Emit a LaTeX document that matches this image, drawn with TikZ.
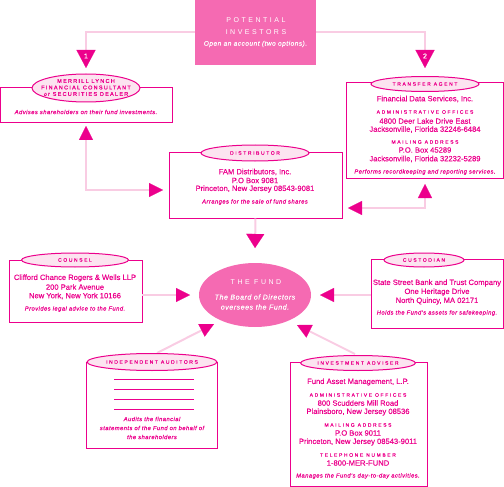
\documentclass[tikz,border=0pt]{standalone}
\usepackage{fontspec}
\setmainfont{Liberation Sans}[FakeBold=0.3]
\newfontfamily\bodyfont[FakeBold=0.3]{Liberation Sans}
\newfontfamily\capsfont[LetterSpace=32,FakeBold=0.6]{Liberation Sans}
\newfontfamily\bigcaps[LetterSpace=36]{Liberation Sans}
\newfontfamily\mlcaps[LetterSpace=23,FakeBold=0.6]{Liberation Sans}
\newfontfamily\itfont[LetterSpace=8,FakeBold=0.5]{Liberation Sans}
\newfontfamily\itwhite[LetterSpace=8,FakeBold=0.3]{Liberation Sans}
\usetikzlibrary{shapes.geometric,arrows.meta,fit}
\definecolor{mag}{RGB}{236,0,140}
\definecolor{lpink}{RGB}{249,204,227}
\definecolor{lfill}{RGB}{252,228,240}
\definecolor{fpink}{RGB}{245,106,178}
\tikzset{
  box/.style={draw=mag, line width=1pt, inner sep=0pt},
  lbl/.style={ellipse, draw=mag, fill=lfill, line width=1pt, inner sep=0pt, text=mag, font=\capsfont\fontsize{5}{6}\selectfont},
  txt/.style={text=mag, inner sep=0pt, font=\bodyfont\fontsize{7.6}{8}\selectfont},
  captxt/.style={text=mag, inner sep=0pt, font=\capsfont\fontsize{5}{6}\selectfont},
  desc/.style={text=mag, inner sep=0pt, font=\itfont\itshape\fontsize{5.8}{6}\selectfont},
  wtxt/.style={text=white, inner sep=0pt, font=\bigcaps\fontsize{7}{8}\selectfont},
  wdesc/.style={text=white, inner sep=0pt, font=\itwhite\itshape\fontsize{7}{8}\selectfont},
  conn/.style={draw=lpink, line width=2pt},
  mtip/.tip={Triangle[width=14pt,length=14pt,color=mag,fill=mag,line width=0.1pt]},
  wtip/.tip={Triangle[width=18pt,length=14pt,color=mag,fill=mag,line width=0.1pt]},
  ntip/.tip={Triangle[width=19pt,length=18pt,color=mag,fill=mag,line width=0.1pt]},
}
\begin{document}
\begin{tikzpicture}[x=1pt,y=-1pt]
\useasboundingbox (0,0) rectangle (504,487);

% Potential investors
\node[fill=fpink, inner sep=0pt, fit={(195,0) (316,65)}] (inv) {};
\node[wtxt] (invA) at (256,20) {POTENTIAL};
\node[wtxt] (invB) at (256,32) {INVESTORS};
\node[wdesc, font=\itwhite\itshape\fontsize{6.5}{7}\selectfont] (invC) at (255.5,44) {Open an account (two options).};

% numbered connectors
\coordinate (n1) at (86,68);
\coordinate (n2) at (425,68);
\draw[conn, -ntip] (inv.west) -| (n1);
\draw[conn, -ntip] (inv.east) -| (n2);
\node[text=white, inner sep=0pt, font=\bodyfont\fontsize{7}{8}\selectfont] (one) at (86,56) {1};
\node[text=white, inner sep=0pt, font=\bodyfont\fontsize{7}{8}\selectfont] (two) at (425,56) {2};

% Merrill Lynch
\node[box, fit={(0.5,88) (172,123)}] (ml) {};
\node[lbl, minimum width=108pt, minimum height=28pt] (mlL) at (86,88) {};
\node[text=mag, inner sep=0pt, font=\mlcaps\fontsize{5.5}{6}\selectfont] (mlA) at (86,81) {MERRILL LYNCH};
\node[text=mag, inner sep=0pt, font=\mlcaps\fontsize{5.5}{6}\selectfont] (mlB) at (86,87.5) {FINANCIAL CONSULTANT};
\node[text=mag, inner sep=0pt, font=\mlcaps\fontsize{5.5}{6}\selectfont] (mlC) at (86,94) {or SECURITIES DEALER};
\node[desc] (mlD) at (86,112) {Advises shareholders on their fund investments.};

% Transfer agent
\node[box, fit={(346,83) (503.5,178)}] (ta) {};
\node[lbl, minimum width=108pt, minimum height=15pt] (taL) at (425,84) {TRANSFER AGENT};
\node[txt] (ta1) at (425,99) {Financial Data Services, Inc.};
\node[captxt] (ta2) at (425,112) {ADMINISTRATIVE OFFICES};
\node[txt] (ta3) at (425,121) {4800 Deer Lake Drive East};
\node[txt] (ta4) at (425,129.5) {Jacksonville, Florida 32246-6484};
\node[captxt] (ta5) at (425,142) {MAILING ADDRESS};
\node[txt] (ta6) at (425,150) {P.O. Box 45289};
\node[txt] (ta7) at (425,159) {Jacksonville, Florida 32232-5289};
\node[desc] (ta8) at (425,172) {Performs recordkeeping and reporting services.};

% Distributor
\node[box, fit={(169,152) (342,218)}] (di) {};
\node[lbl, minimum width=108pt, minimum height=16pt] (diL) at (255,153) {DISTRIBUTOR};
\node[txt] (di1) at (255,172) {FAM Distributors, Inc.};
\node[txt] (di2) at (255,180.5) {P.O Box 9081};
\node[txt] (di3) at (255,189) {Princeton, New Jersey 08543-9081};
\node[desc] (di4) at (255,202) {Arranges for the sale of fund shares};

% connectors merrill / distributor / transfer
\coordinate (a3) at (86,126);
\coordinate (b3) at (163,190);
\draw[conn, mtip-mtip] (a3) |- (b3);
\coordinate (a4) at (425,184);
\coordinate (b4) at (348,208);
\draw[conn, mtip-mtip] (a4) |- (b4);

% The fund
\node[ellipse, fill=fpink, minimum width=112pt, minimum height=64pt, inner sep=0pt] (fund) at (255,295) {};
\node[wtxt] (f1) at (256,282) {THE FUND};
\node[wdesc] (f2) at (255,297) {The Board of Directors};
\node[wdesc] (f3) at (255,307) {oversees the Fund.};

\coordinate (d5) at (255,248);
\draw[conn, -wtip] (di.south) -- (d5);

% Counsel
\node[box, fit={(9,260) (142,322)}] (co) {};
\node[lbl, minimum width=107pt, minimum height=14pt] (coL) at (75,260) {COUNSEL};
\node[txt] (co1) at (75,278) {Clifford Chance Rogers \& Wells LLP};
\node[txt] (co2) at (75,287) {200 Park Avenue};
\node[txt] (co3) at (75,296) {New York, New York 10166};
\node[desc] (co4) at (75,309) {Provides legal advice to the Fund.};
\coordinate (c6s) at (142,295);
\coordinate (c6e) at (190,295);
\draw[conn, -mtip] (c6s) -- (c6e);

% Custodian
\node[box, fit={(371,259) (503.5,328)}] (cu) {};
\node[lbl, minimum width=80pt, minimum height=14pt] (cuL) at (424,260) {CUSTODIAN};
\node[txt] (cu1) at (437,283) {State Street Bank and Trust Company};
\node[txt] (cu2) at (437,292) {One Heritage Drive};
\node[txt] (cu3) at (437,301) {North Quincy, MA 02171};
\node[desc] (cu4) at (437,313) {Holds the Fund's assets for safekeeping.};
\coordinate (c7s) at (371,295);
\coordinate (c7e) at (320,295);
\draw[conn, -mtip] (c7s) -- (c7e);

% Independent auditors
\node[box, fit={(86,362) (217,448)}] (au) {};
\coordinate (c8s) at (157,353);
\coordinate (c8e) at (214,324);
\draw[conn, -mtip] (c8s) -- (c8e);
\node[lbl, minimum width=108pt, minimum height=17pt] (auL) at (152,362) {INDEPENDENT AUDITORS};
\foreach \yy/\nn in {379/la,389/lb,399/lc,409/ld}{
  \coordinate (\nn1) at (114,\yy);
  \coordinate (\nn2) at (194,\yy);
  \draw[mag, line width=1pt] (\nn1) -- (\nn2);
}
\node[desc] (au1) at (152,419) {Audits the financial};
\node[desc] (au2) at (152,428) {statements of the Fund on behalf of};
\node[desc] (au3) at (152,437) {the shareholders};

% Investment adviser
\node[box, fit={(290,362) (427,486)}] (ia) {};
\coordinate (c9s) at (355,354);
\coordinate (c9e) at (297,325);
\draw[conn, -mtip] (c9s) -- (c9e);
\node[lbl, minimum width=108pt, minimum height=15pt] (iaL) at (358,363) {INVESTMENT ADVISER};
\node[txt] (ia1) at (358,382) {Fund Asset Management, L.P.};
\node[captxt] (ia2) at (358,395) {ADMINISTRATIVE OFFICES};
\node[txt] (ia3) at (358,403) {800 Scudders Mill Road};
\node[txt] (ia4) at (358,412) {Plainsboro, New Jersey 08536};
\node[captxt] (ia5) at (358,425) {MAILING ADDRESS};
\node[txt] (ia6) at (358,433) {P.O Box 9011};
\node[txt] (ia7) at (358,442) {Princeton, New Jersey 08543-9011};
\node[captxt] (ia8) at (358,455) {TELEPHONE NUMBER};
\node[txt] (ia9) at (358,463) {1-800-MER-FUND};
\node[desc] (ia10) at (358,476) {Manages the Fund's day-to-day activities.};
\end{tikzpicture}
\end{document}
